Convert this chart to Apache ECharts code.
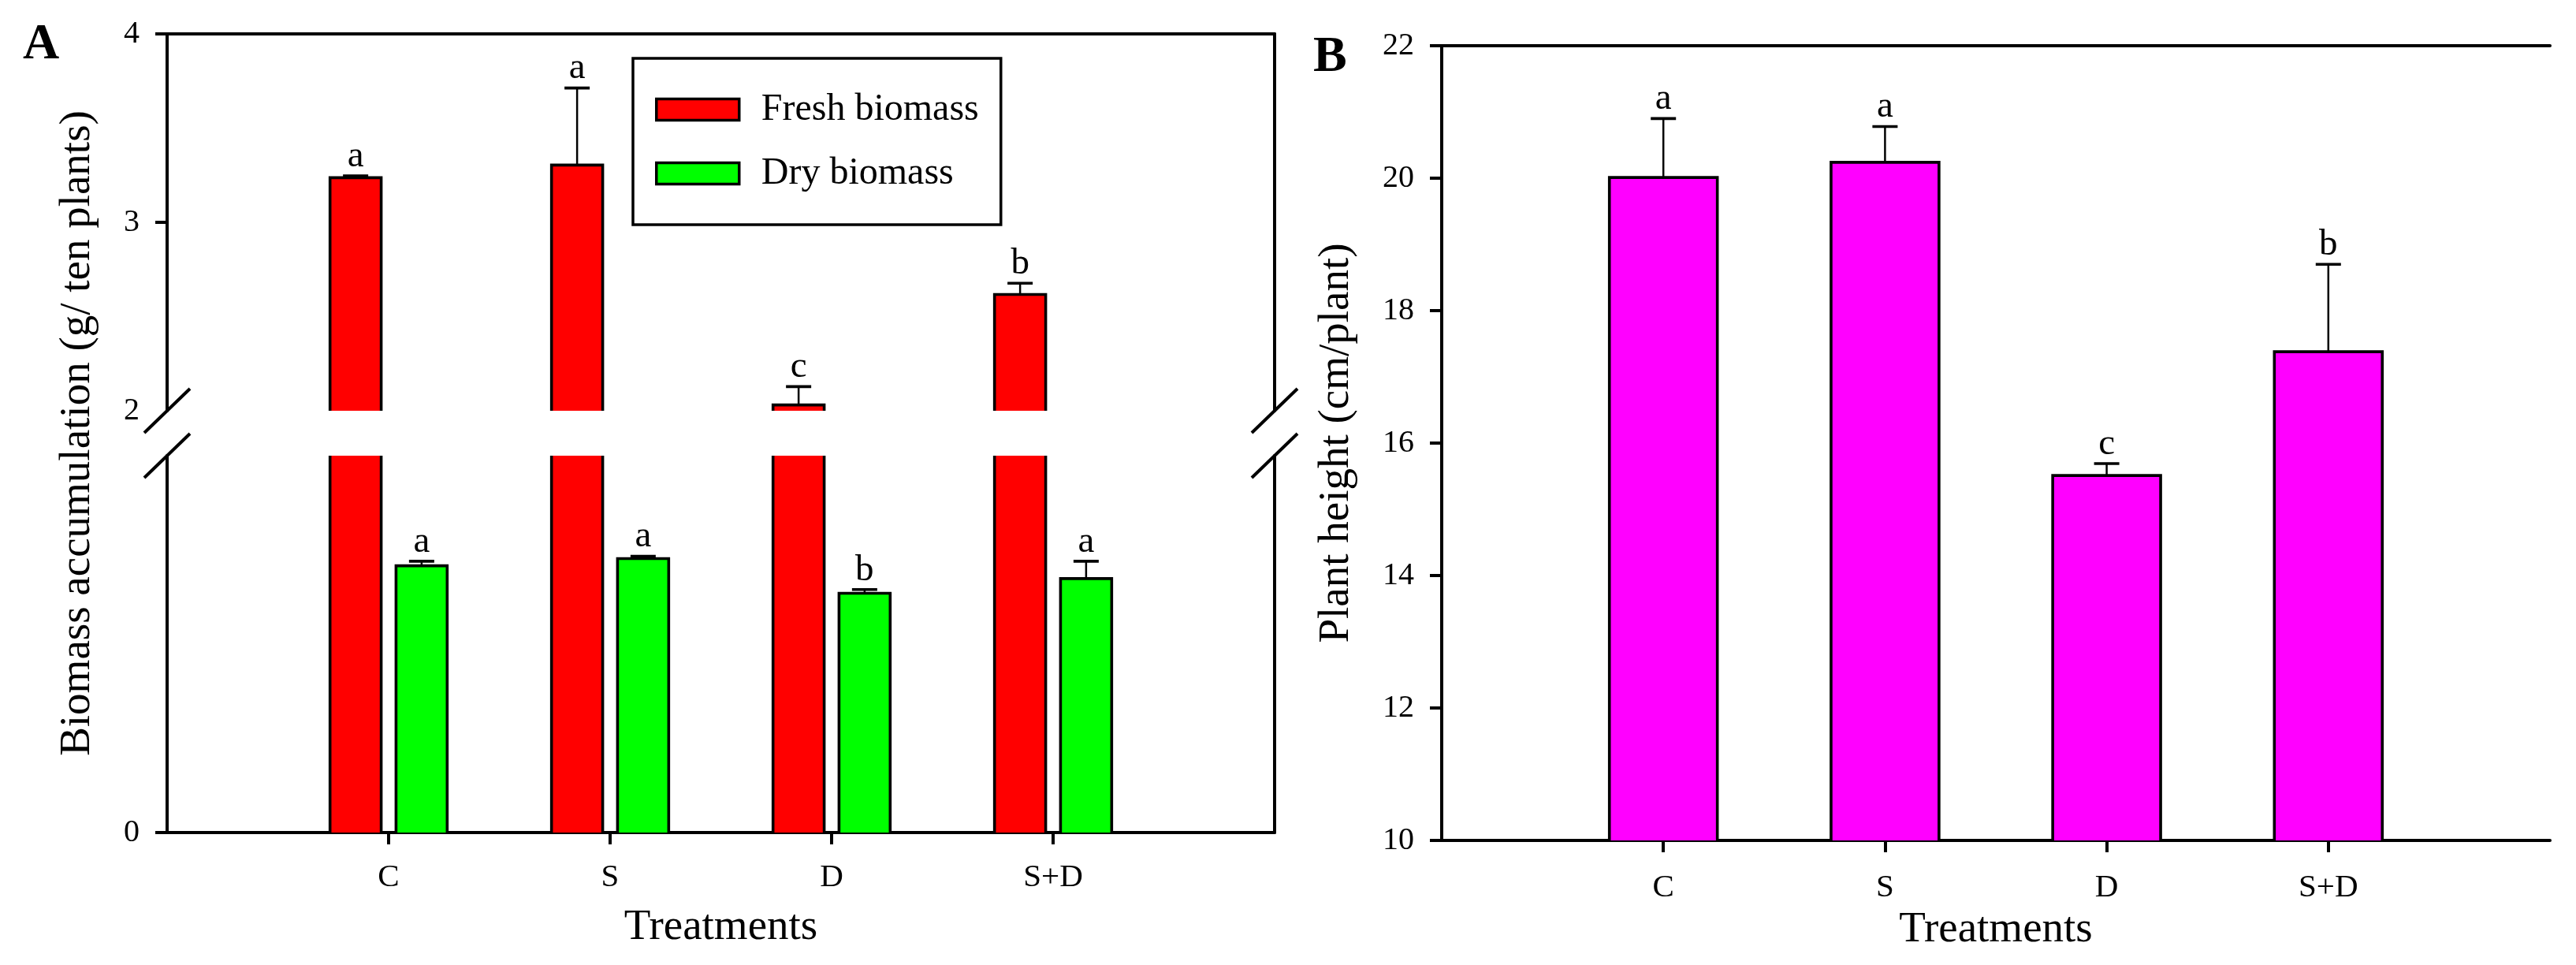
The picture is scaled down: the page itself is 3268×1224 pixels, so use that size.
<!DOCTYPE html>
<html>
<head>
<meta charset="utf-8">
<script src="https://cdn.jsdelivr.net/npm/echarts@6/dist/echarts.min.js"></script>
<style>html,body{margin:0;padding:0;background:#fff}#c{width:3268px;height:1224px}</style>
</head>
<body>
<div id="c"></div>
<script>
// ---------- data ----------
const categories = ['C', 'S', 'D', 'S+D'];
const freshMean = [3.237, 3.304, 2.031, 2.617];
const freshErr = [0.010, 0.409, 0.097, 0.060];
const freshLetters = ['a', 'a', 'c', 'b'];
const dryMean = [0.708, 0.727, 0.635, 0.674];
const dryErr = [0.012, 0.006, 0.010, 0.046];
const dryLetters = ['a', 'a', 'b', 'a'];
const heightMean = [20.01, 20.24, 15.51, 17.38];
const heightErr = [0.89, 0.54, 0.18, 1.32];
const heightLetters = ['a', 'a', 'c', 'b'];
const upperTickLabels = [2, 3, 4];
const upperTickMarks = [3, 4];
const lowerTickLabels = [0];
const catPositions = categories.map((c, i) => i + 1);

// ---------- style ----------
const FONT = "'Liberation Serif','Times New Roman',serif";
const BLACK = '#000';
const AX = { color: BLACK, width: 4 };
const BW = 3.6;

function toData(mean, err) {
  return categories.map((c, i) => [i + 1, mean[i], err[i]]);
}

function barRenderer(letters, offsetFrac, widthFrac, color) {
  return function (params, api) {
    const cs = params.coordSys;
    const cat = api.value(0), v = api.value(1), e = api.value(2);
    const band = api.size([1, 0])[0];
    const p = api.coord([cat, v]);
    const cx = p[0] + offsetFrac * band;
    const w = widthFrac * band;
    const left = cx - w / 2, right = cx + w / 2;
    const base = cs.y + cs.height;
    const clipped = p[1] < cs.y;
    const top = Math.max(p[1], cs.y);
    const children = [{
      type: 'rect',
      shape: { x: left, y: top, width: w, height: base - top },
      style: { fill: color }
    }];
    if (clipped) {
      children.push({ type: 'line', shape: { x1: left, y1: top, x2: left, y2: base }, style: { stroke: BLACK, lineWidth: BW } });
      children.push({ type: 'line', shape: { x1: right, y1: top, x2: right, y2: base }, style: { stroke: BLACK, lineWidth: BW } });
    } else {
      const capY = api.coord([cat, v + e])[1];
      children.push({ type: 'line', shape: { x1: cx, y1: top, x2: cx, y2: capY }, style: { stroke: BLACK, lineWidth: 2.5 } });
      children.push({ type: 'line', shape: { x1: cx - 16, y1: capY, x2: cx + 16, y2: capY }, style: { stroke: BLACK, lineWidth: 3.6 } });
      children.push({
        type: 'polyline',
        shape: { points: [[left, base], [left, top], [right, top], [right, base]] },
        style: { stroke: BLACK, fill: null, lineWidth: BW, lineJoin: 'miter' }
      });
      children.push({
        type: 'text',
        x: cx, y: capY - 1,
        style: { text: letters[params.dataIndex], font: '47px ' + FONT, fill: BLACK, align: 'center', verticalAlign: 'bottom' }
      });
    }
    return { type: 'group', children: children };
  };
}

const lineOnly = { axisLine: { show: true, lineStyle: AX }, axisTick: { show: false }, axisLabel: { show: false }, splitLine: { show: false } };
const catX = { type: 'value', min: 0, max: 5, interval: 1, splitLine: { show: false } };

function bottomX(gridIndex, margin, nameGap) {
  return Object.assign({}, catX, {
    gridIndex: gridIndex, position: 'bottom',
    axisLine: { show: true, lineStyle: AX },
    axisTick: { show: true, length: 15, lineStyle: AX, customValues: catPositions },
    axisLabel: { show: true, customValues: catPositions, formatter: v => categories[Math.round(v) - 1] || '',
      fontSize: 41, fontFamily: FONT, color: BLACK, margin: margin },
    name: 'Treatments', nameLocation: 'middle', nameGap: nameGap,
    nameTextStyle: { fontSize: 55, fontFamily: FONT, color: BLACK }
  });
}

const option = {
  animation: false,
  backgroundColor: '#fff',
  grid: [
    { left: 212, top: 43, width: 1405, height: 478, outerBoundsMode: 'none' },
    { left: 212, top: 578, width: 1405, height: 478, outerBoundsMode: 'none' },
    { left: 1829, top: 58, width: 1406, height: 1008, outerBoundsMode: 'none' }
  ],
  xAxis: [
    Object.assign({}, catX, lineOnly, { gridIndex: 0, position: 'top' }),
    bottomX(1, 37, 93),
    bottomX(2, 40, 86),
    Object.assign({}, catX, lineOnly, { gridIndex: 2, position: 'top' })
  ],
  yAxis: [
    { gridIndex: 0, type: 'value', min: 2, max: 4, interval: 1, position: 'left', splitLine: { show: false },
      axisLine: { show: true, lineStyle: AX },
      axisTick: { show: true, length: 15, lineStyle: AX, customValues: upperTickMarks },
      axisLabel: { show: true, customValues: upperTickLabels, fontSize: 40, fontFamily: FONT, color: BLACK, margin: 35 } },
    Object.assign({ gridIndex: 0, type: 'value', min: 2, max: 4, position: 'right' }, lineOnly),
    { gridIndex: 1, type: 'value', min: 0, max: 1, interval: 1, position: 'left', splitLine: { show: false },
      axisLine: { show: true, lineStyle: AX },
      axisTick: { show: true, length: 15, lineStyle: AX, customValues: lowerTickLabels },
      axisLabel: { show: true, customValues: lowerTickLabels, fontSize: 40, fontFamily: FONT, color: BLACK, margin: 35 } },
    Object.assign({ gridIndex: 1, type: 'value', min: 0, max: 1, position: 'right' }, lineOnly),
    { gridIndex: 2, type: 'value', min: 10, max: 22, interval: 2, position: 'left', splitLine: { show: false },
      axisLine: { show: true, lineStyle: AX },
      axisTick: { show: true, length: 15, lineStyle: AX },
      axisLabel: { show: true, fontSize: 40, fontFamily: FONT, color: BLACK, margin: 35 },
      name: 'Plant height (cm/plant)', nameLocation: 'middle', nameGap: 106,
      nameTextStyle: { fontSize: 55, fontFamily: FONT, color: BLACK } },
    Object.assign({ gridIndex: 2, type: 'value', min: 10, max: 22, position: 'right' }, lineOnly)
  ],
  legend: {
    left: 803, top: 74, orient: 'vertical', selectedMode: false,
    data: [
      { name: 'Fresh biomass', icon: 'rect', itemStyle: { color: '#ff0000', borderColor: BLACK, borderWidth: 3.5 } },
      { name: 'Dry biomass', icon: 'rect', itemStyle: { color: '#00ff00', borderColor: BLACK, borderWidth: 3.5 } }
    ],
    itemWidth: 105, itemHeight: 27, itemGap: 33,
    padding: [41, 28, 41, 28],
    borderColor: BLACK, borderWidth: 3.5,
    textStyle: { fontSize: 48, fontFamily: FONT, color: BLACK, lineHeight: 27, padding: [0, 0, 0, 23] }
  },
  series: [
    { type: 'custom', name: 'Fresh biomass', xAxisIndex: 0, yAxisIndex: 0, data: toData(freshMean, freshErr),
      renderItem: barRenderer(freshLetters, -0.149, 0.231, '#ff0000'), itemStyle: { color: '#ff0000' } },
    { type: 'custom', name: 'Fresh biomass', xAxisIndex: 1, yAxisIndex: 2, data: toData(freshMean, freshErr),
      renderItem: barRenderer(freshLetters, -0.149, 0.231, '#ff0000'), itemStyle: { color: '#ff0000' } },
    { type: 'custom', name: 'Dry biomass', xAxisIndex: 1, yAxisIndex: 2, data: toData(dryMean, dryErr),
      renderItem: barRenderer(dryLetters, 0.149, 0.231, '#00ff00'), itemStyle: { color: '#00ff00' } },
    { type: 'custom', name: 'Plant height', xAxisIndex: 2, yAxisIndex: 4, data: toData(heightMean, heightErr),
      renderItem: barRenderer(heightLetters, 0, 0.487, '#ff00ff'), itemStyle: { color: '#ff00ff' } }
  ]
};

const chart = echarts.init(document.getElementById('c'), null, { renderer: 'canvas' });
chart.setOption(option);

// break marks and panel texts, placed from the axes' own pixel mapping
const yBreakUpper = chart.convertToPixel({ yAxisIndex: 0 }, 2);
const yBreakLower = chart.convertToPixel({ yAxisIndex: 2 }, 1);
const yTopA = chart.convertToPixel({ yAxisIndex: 0 }, 4);
const yBotA = chart.convertToPixel({ yAxisIndex: 2 }, 0);
const xLeftA = chart.convertToPixel({ xAxisIndex: 1 }, 0);
const xRightA = chart.convertToPixel({ xAxisIndex: 1 }, 5);
const xLeftB = chart.convertToPixel({ xAxisIndex: 2 }, 0);
const yTopB = chart.convertToPixel({ yAxisIndex: 4 }, 22);

const graphics = [];
[xLeftA, xRightA].forEach(x => {
  [yBreakUpper, yBreakLower].forEach(y => {
    graphics.push({ type: 'line', shape: { x1: x - 29, y1: y + 28, x2: x + 29, y2: y - 28 },
      style: { stroke: BLACK, lineWidth: 4 }, z: 100 });
  });
});
graphics.push({
  type: 'text', x: xLeftA - 113, y: (yTopA + yBotA) / 2, rotation: Math.PI / 2,
  style: { text: 'Biomass accumulation (g/ ten plants)', font: '55px ' + FONT, fill: BLACK, align: 'center', verticalAlign: 'middle' }
});
graphics.push({
  type: 'text', x: 29, y: yTopA + 14,
  style: { text: 'A', font: 'bold 64px ' + FONT, fill: BLACK, align: 'left', verticalAlign: 'middle' }
});
graphics.push({
  type: 'text', x: xLeftB - 163, y: yTopB + 15,
  style: { text: 'B', font: 'bold 64px ' + FONT, fill: BLACK, align: 'left', verticalAlign: 'middle' }
});
chart.setOption({ graphic: graphics });
</script>
</body>
</html>
